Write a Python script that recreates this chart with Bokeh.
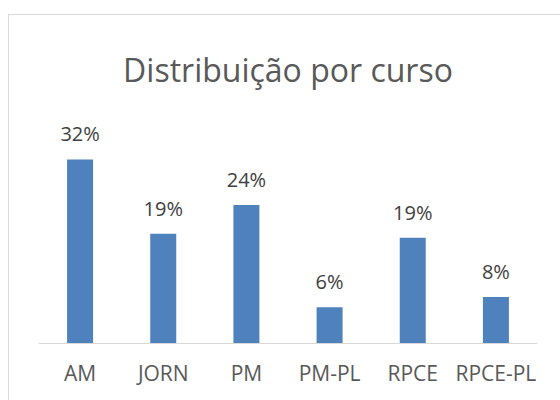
from bokeh.plotting import figure
from bokeh.models import ColumnDataSource, LabelSet, FactorRange, Label
from bokeh.core.properties import value
from bokeh.embed import file_html
from bokeh.resources import INLINE

categories = ["AM", "JORN", "PM", "PM-PL", "RPCE", "RPCE-PL"]
values = [32.0, 19.1, 24.1, 6.3, 18.4, 8.1]
value_labels = ["32%", "19%", "24%", "6%", "19%", "8%"]
title_text = "Distribuição por curso"

FONT = "Open Sans"

src = ColumnDataSource(data=dict(cat=categories, val=values, lab=value_labels))

p = figure(x_range=FactorRange(*categories, range_padding=0), y_range=(0, 57.04),
           width=552, height=386, output_backend="svg", toolbar_location=None,
           y_axis_location=None, title_location=None, min_border_left=29,
           min_border_right=24, min_border_top=0, min_border_bottom=58)
p.margin = (14, 0, 0, 8)
p.styles = {"border-top": "1px solid #D9D9D9", "border-left": "1px solid #D9D9D9"}
p.outline_line_color = None
p.xgrid.visible = False
p.ygrid.visible = False
p.background_fill_color = "white"
p.border_fill_color = "white"

title = Label(x=3.0, y=47.65, text=title_text, text_align="center",
              text_baseline="alphabetic", text_font=FONT,
              text_font_size="32px", text_color="#595959")
p.add_layout(title)

p.vbar(x="cat", top="val", bottom=0, width=0.3125, source=src,
       fill_color="#4F81BD", line_color=None)

labels = LabelSet(x="cat", y="val", text="lab", source=src, y_offset=18,
                  text_align="center", text_baseline="alphabetic",
                  text_font=value(FONT), text_font_size=value("20px"),
                  text_color="#404040")
p.add_layout(labels)

ax = p.xaxis[0]
ax.axis_line_color = "#D9D9D9"
ax.axis_line_width = 1
ax.major_tick_line_color = None
ax.minor_tick_line_color = None
ax.major_tick_out = 0
ax.major_tick_in = 0
ax.major_label_standoff = 15
ax.major_label_text_font = FONT
ax.major_label_text_font_size = "21px"
ax.major_label_text_color = "#595959"

open("out.html", "w").write(file_html(p, INLINE))
